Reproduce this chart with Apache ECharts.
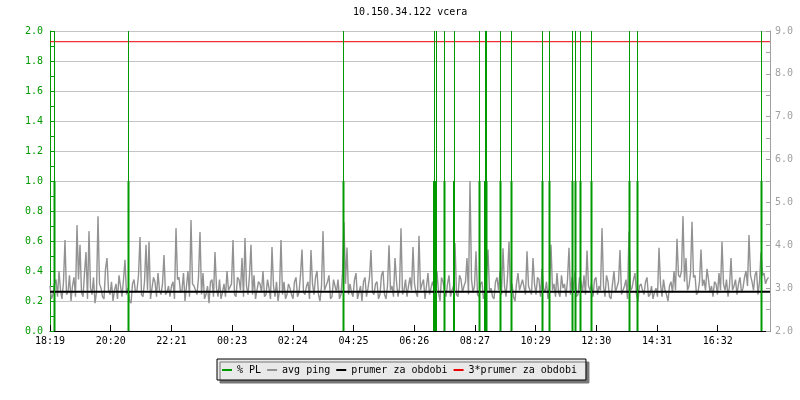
<!DOCTYPE html>
<html>
<head>
<meta charset="utf-8">
<script src="https://cdn.jsdelivr.net/npm/echarts@6/dist/echarts.min.js"></script>
<style>html,body{margin:0;padding:0;background:#fff}#c{width:800px;height:400px}</style>
</head>
<body>
<div id="c"></div>
<script>
// ---- data ----
var titleText = '10.150.34.122 vcera';
var tickLabels = ['18:19','20:20','22:21','00:23','02:24','04:25','06:26','08:27','10:29','12:30','14:31','16:32'];
var tickStepMin = 121.4;          // minutes between time labels
var spanMin = 1440;               // minutes shown
var sampleStepMin = 3;            // avg ping sample spacing (minutes)

// avg ping (ms), one value per sample
var avgPing = [
  3.05,2.75,2.85,3.10,3.20,2.80,3.40,2.95,2.75,3.15,4.12,2.85,2.90,3.30,2.70,3.05,3.25,2.80,4.47,3.20,
  4.01,2.90,2.80,3.35,3.84,2.75,4.33,3.00,2.85,3.25,2.65,2.90,4.68,3.10,3.00,2.80,2.75,3.45,3.70,2.95,
  2.85,3.15,2.70,2.95,3.10,2.75,3.30,3.05,2.80,3.20,3.66,2.85,3.00,2.70,2.65,3.10,3.20,2.90,2.95,3.30,
  4.19,2.85,2.80,3.15,4.01,2.95,4.08,2.75,2.75,3.25,3.15,2.80,3.35,2.95,2.85,3.10,3.77,2.85,2.90,3.05,
  2.80,3.05,3.15,2.75,4.40,3.20,3.25,2.90,2.95,3.35,2.70,3.05,3.40,2.80,4.59,3.10,3.05,2.95,2.85,3.25,
  4.31,2.85,3.35,2.75,2.85,3.05,2.65,3.15,3.20,2.80,3.84,3.00,2.80,3.20,2.75,2.90,3.10,2.80,3.40,2.95,
  2.95,3.10,4.12,2.85,2.80,3.25,3.20,2.95,3.70,2.80,4.17,3.05,2.85,3.30,4.01,2.85,3.30,2.75,2.75,3.15,
  3.10,2.90,3.40,2.80,2.85,3.20,3.00,2.75,3.96,3.05,2.80,3.15,2.70,2.95,4.12,2.85,3.15,2.75,2.85,3.10,
  3.00,2.85,2.75,3.15,3.25,2.80,2.90,3.30,3.90,2.90,2.85,3.05,3.15,2.75,3.89,3.10,2.85,3.25,3.40,2.85,
  2.70,3.05,4.33,2.95,2.95,3.15,3.30,2.75,2.80,3.20,3.05,2.90,3.20,2.75,2.85,3.35,4.54,3.10,3.95,2.85,
  3.10,2.90,2.80,3.20,3.35,2.75,2.90,3.05,2.70,3.15,3.25,2.80,3.00,3.25,3.89,2.90,2.85,3.10,3.15,2.75,
  2.85,3.30,3.40,2.85,2.75,3.05,4.00,2.95,3.05,2.80,3.70,3.15,2.80,3.00,4.40,2.85,2.95,3.20,2.80,3.05,
  3.25,2.95,3.96,3.10,2.90,2.80,4.22,2.95,3.10,3.20,2.75,3.05,3.35,2.85,2.85,3.15,3.00,2.75,3.40,2.90,
  2.70,3.25,3.15,2.95,2.80,3.10,3.30,2.80,2.95,3.05,4.05,2.85,2.80,3.30,3.20,2.90,3.05,3.15,3.70,2.85,
  5.50,3.20,2.90,3.05,3.86,2.85,2.80,3.10,3.15,2.75,2.85,3.30,3.90,2.90,3.00,2.80,2.75,3.15,3.25,2.95,
  3.40,2.85,3.93,3.05,2.80,3.25,4.08,2.90,3.10,2.80,2.70,3.10,3.35,2.95,2.95,3.20,3.20,2.85,3.86,3.05,
  3.05,2.85,3.70,3.10,2.85,3.25,3.20,2.80,3.45,3.00,2.90,3.15,2.75,3.05,4.01,2.95,3.10,2.80,3.35,2.90,
  2.80,3.30,3.00,3.10,2.80,3.20,3.94,2.85,3.25,2.95,3.40,2.80,2.85,3.25,3.15,2.90,3.30,2.85,3.88,3.05,
  2.95,3.10,2.80,3.20,3.25,2.85,3.05,2.95,4.40,3.05,2.80,3.30,3.15,2.80,2.75,3.10,3.40,2.90,2.90,3.15,
  3.89,2.85,2.85,3.05,3.20,2.75,4.32,2.95,3.00,3.20,3.35,2.85,2.70,3.05,3.10,2.95,2.85,3.15,3.25,2.80,
  2.85,3.05,2.75,2.90,3.00,2.80,3.94,3.10,2.80,3.20,2.95,2.85,2.70,3.05,3.15,2.90,3.40,2.95,4.15,3.30,
  3.25,3.40,4.68,3.15,3.70,2.95,3.05,3.35,4.55,3.25,3.30,2.85,2.90,3.15,3.90,3.05,3.20,2.95,3.45,3.20,
  2.90,3.05,2.80,3.15,3.10,2.85,3.35,2.95,4.08,3.10,2.95,3.20,2.80,3.05,3.70,2.95,3.05,3.20,2.85,3.10,
  3.25,2.90,3.00,3.25,3.40,3.05,4.24,3.30,3.15,2.95,3.30,3.40,2.85,3.15,3.83,3.30,3.35,3.10,3.20,3.25
];

// packet loss events: minutes from start, and % PL value (left axis)
var plTimes  = [9,157,587,768,772,789,808,859,870,873,901,923,985,999,1045,1051,1061,1083,1159,1175,1423];
var plValues = [1,1,1,1,1,1,1,1,1,1,1,1,1,1,1,1,1,1,1,1,1];

var prumer = 2.917;        // average over period (ms)
var prumer3 = 8.75;        // 3 * average (ms)

var leftAxis = {min: 0, max: 2, step: 0.2};
var rightAxis = {min: 2, max: 9, step: 1};

// ---- chart ----
var FONT = '"DejaVu Sans Mono", monospace';
var GREEN = '#009900', GRAY = '#929292';

var pingData = avgPing.map(function (v, i) { return [i * sampleStepMin, v]; });
var plData = plTimes.map(function (t, i) { return [t, plValues[i]]; });

var chart = echarts.init(document.getElementById('c'), null, {renderer: 'canvas'});
chart.setOption({
  animation: false,
  backgroundColor: '#ffffff',
  title: {
    text: titleText, left: 353, top: 7, padding: 0,
    textStyle: {fontFamily: FONT, fontSize: 10, fontWeight: 'normal', color: '#000'}
  },
  legend: {
    left: 217, top: 359,
    padding: [6, 9, 5, 5],
    itemGap: 6, itemWidth: 10, itemHeight: 2, icon: 'rect',
    backgroundColor: '#e9e9e9', borderColor: '#000', borderWidth: 1,
    shadowColor: '#777', shadowBlur: 0, shadowOffsetX: 3, shadowOffsetY: 3,
    textStyle: {fontFamily: FONT, fontSize: 10, color: '#000'},
    data: ['% PL', 'avg ping', 'prumer za obdobi', '3*prumer za obdobi']
  },
  grid: {left: 50, right: 30, top: 31, bottom: 69, containLabel: false},
  xAxis: [{
    type: 'value', min: 0, max: spanMin, interval: tickStepMin,
    axisLine: {show: true, lineStyle: {color: '#000', width: 1}},
    axisTick: {show: true, inside: true, length: 6, lineStyle: {color: '#000'}},
    axisLabel: {
      margin: 5, color: '#000', fontFamily: FONT, fontSize: 10, showMaxLabel: false,
      formatter: function (v) { var k = Math.round(v / tickStepMin); return tickLabels[k] || ''; }
    },
    splitLine: {show: false}
  }],
  yAxis: [{
    type: 'value', position: 'left', min: leftAxis.min, max: leftAxis.max, interval: leftAxis.step,
    axisLine: {show: true, lineStyle: {color: GREEN, width: 1}},
    axisTick: {show: true, inside: true, length: 4, lineStyle: {color: GREEN}},
    minorTick: {show: true, splitNumber: 2, length: 4, lineStyle: {color: GREEN}},
    axisLabel: {margin: 7, color: GREEN, fontFamily: FONT, fontSize: 10,
      formatter: function (v) { return v.toFixed(1); }},
    splitLine: {show: true, lineStyle: {color: '#c4c4c4', width: 1}}
  }, {
    type: 'value', position: 'right', min: rightAxis.min, max: rightAxis.max, interval: rightAxis.step,
    axisLine: {show: true, lineStyle: {color: '#a0a0a0', width: 1}},
    axisTick: {show: true, inside: true, length: 4, lineStyle: {color: '#a0a0a0'}},
    minorTick: {show: true, splitNumber: 2, length: 4, lineStyle: {color: '#a0a0a0'}},
    axisLabel: {margin: 5, color: '#a0a0a0', fontFamily: FONT, fontSize: 10,
      formatter: function (v) { return v.toFixed(1); }},
    splitLine: {show: false}
  }],
  series: [{
    name: 'avg ping', type: 'line', yAxisIndex: 1, data: pingData,
    symbol: 'none', lineStyle: {color: GRAY, width: 1.4}, itemStyle: {color: GRAY}, z: 2
  }, {
    name: '% PL', type: 'bar', yAxisIndex: 0, data: plData, barWidth: 2,
    itemStyle: {color: GREEN}, z: 3,
    markLine: {
      silent: true, symbol: ['none', 'none'], label: {show: false},
      lineStyle: {color: GREEN, width: 1, type: 'solid'},
      data: plTimes.map(function (t) { return {xAxis: t}; })
    }
  }, {
    name: 'prumer za obdobi', type: 'line', yAxisIndex: 1,
    data: [[0, prumer], [spanMin, prumer]], symbol: 'none',
    lineStyle: {color: '#000', width: 2}, itemStyle: {color: '#000'}, z: 4
  }, {
    name: '3*prumer za obdobi', type: 'line', yAxisIndex: 1,
    data: [[0, prumer3], [spanMin, prumer3]], symbol: 'none',
    lineStyle: {color: '#ee0000', width: 1}, itemStyle: {color: '#ee0000'}, z: 4
  }]
});
</script>
</body>
</html>
